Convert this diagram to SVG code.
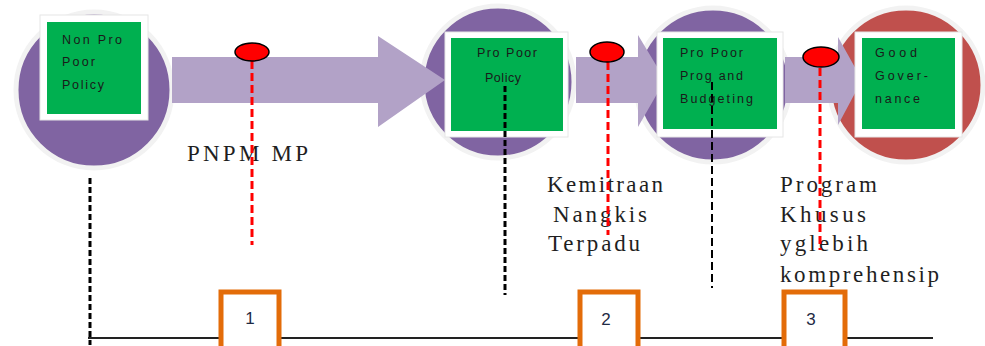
<svg xmlns="http://www.w3.org/2000/svg" width="985" height="346" viewBox="0 0 985 346">
<style>
.circ{stroke:#f2f2f2;stroke-width:5}
.pur{fill:#8064a2}
.redc{fill:#c0504d}
.arrow{fill:#b2a2c7}
.boxw{fill:#ffffff;stroke:#e6e6e6;stroke-width:1}
.boxg{fill:#00b050}
.bt{font-family:"Liberation Sans",Arial,sans-serif;font-size:12.5px;fill:#1a1a1a}
.st{font-family:"Liberation Serif","Times New Roman",serif;font-size:23px;fill:#1f1f1f}
.reddash{stroke:#ff0000;stroke-width:3;stroke-dasharray:8 4;fill:none}
.blkdash{stroke:#000;stroke-width:3;stroke-dasharray:6 3;fill:none}
.blkthin{stroke:#000;stroke-width:2;stroke-dasharray:8 4;fill:none}
.dot{fill:#ff0000;stroke:#000;stroke-width:1.5}
.ob{fill:#ffffff;stroke:#e36c09;stroke-width:5}
.num{font-family:"Liberation Sans",Arial,sans-serif;font-size:17px;fill:#1f2a44;text-anchor:middle}
</style>
<g id="circles">
<circle class="circ pur" cx="94" cy="90" r="78"/>
<circle class="circ pur" cx="498" cy="82" r="76"/>
<circle class="circ pur" cx="713" cy="85" r="77"/>
<circle class="circ redc" cx="906" cy="85" r="77"/>
</g>
<g id="arrows">
<polygon class="arrow" points="172,57 378,57 378,36 445,80 378,127 378,103 172,103"/>
<polygon class="arrow" points="576,57 638,57 638,35 665,80 638,127 638,103 576,103"/>
<polygon class="arrow" points="785,57 838,57 838,37 862,80 838,125 838,103 785,103"/>
</g>
<g id="node-nonpro">
<rect class="boxw" x="40" y="15" width="108" height="105"/>
<rect class="boxg" x="47" y="22" width="94" height="92"/>
<text class="bt" x="62" y="44" textLength="60" lengthAdjust="spacing">Non Pro</text>
<text class="bt" x="62" y="66" textLength="33" lengthAdjust="spacing">Poor</text>
<text class="bt" x="62" y="89" textLength="42" lengthAdjust="spacing">Policy</text>
</g>
<g id="node-propoor">
<rect class="boxw" x="445" y="32" width="123" height="105"/>
<rect class="boxg" x="451" y="38" width="112" height="93"/>
<text class="bt" x="477" y="57" textLength="60" lengthAdjust="spacing">Pro Poor</text>
<text class="bt" x="485" y="82" textLength="36" lengthAdjust="spacing">Policy</text>
</g>
<g id="node-budget">
<rect class="boxw" x="657" y="32" width="126" height="105"/>
<rect class="boxg" x="663" y="38" width="114" height="91"/>
<text class="bt" x="680" y="57" textLength="63" lengthAdjust="spacing">Pro Poor</text>
<text class="bt" x="680" y="80" textLength="63" lengthAdjust="spacing">Prog and</text>
<text class="bt" x="680" y="103" textLength="73" lengthAdjust="spacing">Budgeting</text>
</g>
<g id="node-good">
<rect class="boxw" x="855" y="32" width="107" height="105"/>
<rect class="boxg" x="862" y="38" width="93" height="91"/>
<text class="bt" x="875" y="57" textLength="42" lengthAdjust="spacing">Good</text>
<text class="bt" x="875" y="80" textLength="53" lengthAdjust="spacing">Gover-</text>
<text class="bt" x="875" y="103" textLength="45" lengthAdjust="spacing">nance</text>
</g>
<g id="labels">
<text class="st" x="187" y="161" textLength="121" lengthAdjust="spacing">PNPM MP</text>
<text class="st" x="547" y="192" textLength="116" lengthAdjust="spacing">Kemitraan</text>
<text class="st" x="553" y="222" textLength="94" lengthAdjust="spacing">Nangkis</text>
<text class="st" x="548" y="251" textLength="92" lengthAdjust="spacing">Terpadu</text>
<text class="st" x="780" y="192" textLength="97" lengthAdjust="spacing">Program</text>
<text class="st" x="780" y="222" textLength="86" lengthAdjust="spacing">Khusus</text>
<text class="st" x="780" y="251" textLength="88" lengthAdjust="spacing">yglebih</text>
<text class="st" x="780" y="282" textLength="159" lengthAdjust="spacing">komprehensip</text>
</g>
<g id="connectors">
<line class="blkdash" x1="90" y1="178" x2="90" y2="345"/>
<line class="blkdash" x1="505" y1="86" x2="505" y2="295"/>
<line class="blkthin" x1="712" y1="82" x2="712" y2="288"/>
<line x1="88" y1="338" x2="933" y2="338" stroke="#222" stroke-width="2"/>
<line class="reddash" x1="252" y1="61" x2="252" y2="245"/>
<line class="reddash" x1="608" y1="62" x2="608" y2="235"/>
<line class="reddash" x1="820" y1="68" x2="820" y2="250"/>
<ellipse class="dot" cx="252" cy="52" rx="17" ry="9"/>
<ellipse class="dot" cx="607" cy="52" rx="17" ry="10"/>
<ellipse class="dot" cx="821" cy="57" rx="18" ry="10"/>
</g>
<g id="node-1">
<rect class="ob" x="221" y="292" width="58" height="58"/>
<text class="num" x="250" y="324">1</text>
</g>
<g id="node-2">
<rect class="ob" x="580" y="292" width="58" height="58"/>
<text class="num" x="606" y="325">2</text>
</g>
<g id="node-3">
<rect class="ob" x="784" y="292" width="61" height="58"/>
<text class="num" x="811" y="325">3</text>
</g>
</svg>
